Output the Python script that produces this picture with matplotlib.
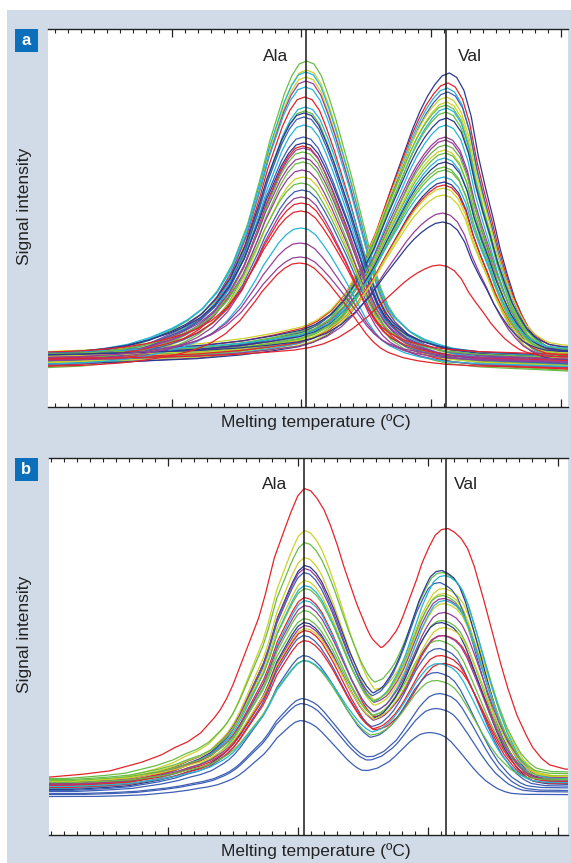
import numpy as np
import matplotlib
matplotlib.use("Agg")
import matplotlib.pyplot as plt
from matplotlib.patches import Rectangle
from matplotlib.ticker import MultipleLocator

plt.rcParams['font.family'] = ['Liberation Sans', 'DejaVu Sans']

# ---------------- colours ----------------
PALETTE = {
    'red': '#e5232b', 'green': '#69bd45', 'yellow': '#cdd12b', 'cyan': '#27b4d6',
    'navy': '#2b3990', 'blue': '#3d5fb4', 'purple': '#973f98',
}
BG = '#d1dbe8'
BOX = '#0b6fbb'

# ---------------- peak shape profiles (fraction of peak height vs offset, °C) ----------------
ALA_A_DX = [-20, -17.5, -15, -13.5, -12, -10.5, -9, -8, -7, -6, -5, -4, -3.5, -3, -2.5, -2, -1.5, -1, -0.5,
            0, 0.5, 1, 1.5, 2, 2.5, 3, 3.5, 4, 4.5, 5, 5.5, 6, 7, 8, 9, 10, 12, 15, 21]
ALA_A_FR = [0.0, 0.006, 0.014, 0.025, 0.04, 0.065, 0.1, 0.13, 0.17, 0.23, 0.32, 0.45, 0.54, 0.63, 0.73, 0.81, 0.89, 0.95, 0.99,
            1.0, 0.99, 0.95, 0.88, 0.80, 0.71, 0.62, 0.52, 0.42, 0.32, 0.24, 0.18, 0.14, 0.09, 0.06, 0.04, 0.025, 0.01, 0.0, -0.02]

VAL_A_DX = [-31.5, -28, -25, -22, -20, -17, -14, -12, -10, -9, -8, -7, -6, -5, -4, -3.5, -3, -2.5, -2, -1.5, -1, -0.5,
            0, 0.5, 1, 1.5, 2, 2.5, 3, 3.5, 4, 4.5, 5, 5.5, 6, 6.5, 7, 8, 10]
VAL_A_FR = [0.0, 0.008, 0.015, 0.022, 0.03, 0.04, 0.06, 0.08, 0.105, 0.13, 0.17, 0.235, 0.33, 0.45, 0.60, 0.67, 0.74, 0.81, 0.87, 0.92, 0.96, 0.99,
            1.0, 0.985, 0.94, 0.85, 0.71, 0.60, 0.50, 0.39, 0.30, 0.22, 0.16, 0.11, 0.08, 0.06, 0.045, 0.035, 0.03]
ALA_A_WIDTH = 1.14
VAL_A_WIDTH = 1.12

ALA_B_DX = [-20, -17, -15, -12.5, -11, -10, -9, -8, -7.4, -7, -6.5, -6, -5.5, -5, -4.5, -4, -3.5, -3, -2.3, -1.5, -1, -0.5,
            0, 0.5, 1, 1.5, 2, 2.5, 3, 3.5, 4, 4.8, 5.3, 5.9, 6.5, 7.3, 8.6, 10, 12, 15, 20]
ALA_B_FR = [0.0, 0.01, 0.02, 0.05, 0.075, 0.10, 0.12, 0.15, 0.18, 0.20, 0.23, 0.27, 0.32, 0.38, 0.44, 0.50, 0.56, 0.64, 0.77, 0.87, 0.93, 0.98,
            1.0, 0.985, 0.95, 0.90, 0.83, 0.75, 0.66, 0.57, 0.48, 0.34, 0.26, 0.18, 0.14, 0.10, 0.06, 0.04, 0.02, 0.01, 0.0]

VAL_B_DX = [-31, -25, -20, -15, -12, -10, -8, -7, -6, -5, -4, -3.5, -3, -2.5, -2, -1.5, -1, -0.5,
            0, 0.5, 1, 1.5, 2, 2.7, 3.3, 4, 4.6, 5.3, 6, 6.5, 7.2, 7.8, 9, 12]
VAL_B_FR = [0.0, 0.005, 0.01, 0.02, 0.04, 0.07, 0.13, 0.18, 0.25, 0.35, 0.48, 0.56, 0.65, 0.74, 0.83, 0.90, 0.96, 0.99,
            1.0, 0.99, 0.97, 0.93, 0.86, 0.73, 0.61, 0.47, 0.36, 0.25, 0.17, 0.12, 0.075, 0.05, 0.035, 0.03]

# ---------------- panel a: homozygous samples ----------------
A_ALA_PEAK = [346, 337, 335, 330, 326, 320, 310, 300, 296, 294, 290, 282, 270, 264, 261,
              259, 255, 249, 245, 237, 230, 224, 217, 210, 204, 196, 179, 164, 150, 144]
A_ALA_BASE = [48, 44, 50, 41, 46, 52, 43, 47, 39, 51, 45, 42, 49, 53, 40,
              46, 44, 50, 38, 47, 43, 51, 45, 41, 48, 54, 42, 46, 49, 40]
A_ALA_POS = [80.4, 80.4, 80.35, 80.35, 80.35, 80.3, 80.25, 80.3, 80.25, 80.2, 80.2, 80.2, 80.15, 80.15, 80.1,
             80.15, 80.1, 80.1, 80.1, 80.05, 80.1, 80.0, 80.05, 80.0, 80.0, 79.95, 79.95, 79.9, 79.9, 79.85]
A_ALA_COLOR = ['green', 'yellow', 'cyan', 'yellow', 'purple', 'cyan', 'red', 'cyan', 'green', 'navy',
               'blue', 'cyan', 'blue', 'navy', 'red', 'purple', 'green', 'purple', 'green', 'purple',
               'yellow', 'green', 'blue', 'purple', 'red', 'red', 'cyan', 'purple', 'purple', 'red']

A_VAL_PEAK = [334, 324, 319, 315, 310, 305, 302, 299, 295, 289, 282, 270, 267, 262,
              257, 254, 249, 245, 240, 237, 230, 225, 222, 219, 212, 194, 185, 142]
A_VAL_BASE = [45, 50, 42, 47, 53, 44, 49, 41, 46, 52, 43, 48, 40, 51,
              45, 47, 42, 50, 44, 48, 53, 41, 46, 43, 49, 45, 51, 47]
A_VAL_POS = [91.4, 91.3, 91.25, 91.3, 91.2, 91.2, 91.15, 91.2, 91.15, 91.2, 91.15, 91.1, 91.1, 91.1,
             91.05, 91.1, 91.05, 91.1, 91.0, 91.05, 91.0, 91.0, 91.0, 90.95, 90.95, 90.9, 90.9, 90.66]
A_VAL_COLOR = ['navy', 'red', 'cyan', 'blue', 'yellow', 'yellow', 'green', 'cyan', 'green', 'navy',
               'cyan', 'purple', 'purple', 'green', 'yellow', 'green', 'cyan', 'navy', 'green', 'green',
               'cyan', 'navy', 'red', 'yellow', 'yellow', 'purple', 'navy', 'red']

# ---------------- panel b: heterozygous samples ----------------
B_ALA_PEAK = [346, 304, 292, 277, 269, 266, 262, 254, 249, 246, 237, 234, 229, 224,
              216, 212, 209, 206, 204, 199, 194, 179, 174, 174, 136, 131, 114]
B_VAL_PEAK = [306, 246, 262, 241, 264, 236, 252, 231, 259, 239, 199, 234, 222, 214,
              194, 212, 199, 207, 171, 186, 179, 162, 154, 171, 141, 126, 102]
B_BASE = [57, 52, 56, 50, 48, 51, 47, 53, 49, 55, 50, 46, 52, 48,
          54, 45, 50, 53, 49, 44, 47, 43, 52, 48, 41, 40, 38]
B_ALA_POS = [80.5, 80.5, 80.5, 80.5, 80.5, 80.5, 80.45, 80.5, 80.5, 80.5, 80.5, 80.5, 80.5, 80.45,
             80.45, 80.45, 80.5, 80.5, 80.5, 80.4, 80.45, 80.4, 80.4, 80.45, 80.3, 80.25, 80.2]
B_VAL_POS = [91.57, 91.35, 91.2, 91.3, 91.1, 91.3, 90.95, 91.35, 91.35, 91.2, 91.3, 91.35, 91.3, 91.2,
             90.95, 91.1, 91.2, 91.35, 91.3, 90.95, 91.1, 90.75, 90.75, 90.95, 90.95, 90.7, 90.2]
B_WIDTH = [1.0, 0.92, 0.92, 0.9, 0.9, 0.9, 0.9, 0.9, 0.9, 0.9, 0.9, 0.9, 0.9, 0.9,
           0.9, 0.9, 0.9, 0.9, 0.9, 0.9, 0.9, 0.88, 0.88, 0.9, 0.85, 0.85, 0.8]
B_COLOR = ['red', 'yellow', 'green', 'yellow', 'navy', 'purple', 'blue', 'yellow', 'cyan', 'green',
           'red', 'cyan', 'purple', 'green', 'green', 'navy', 'purple', 'yellow', 'red', 'blue',
           'red', 'blue', 'green', 'cyan', 'blue', 'blue', 'blue']

MARKER_POS_A = [80.35, 91.12]
MARKER_POS_B = [80.51, 91.39]
MARKER_LABELS = ['Ala', 'Val']
XLIM_A = (60.5, 100.54)
XLIM_B = (60.85, 100.8)

# ---------------- figure ----------------
W, H = 571, 863
fig = plt.figure(figsize=(W / 100, H / 100), dpi=100)
fig.patch.set_facecolor('white')


def fx(px):
    return px / W


def fy(py):
    return 1 - py / H


fig.add_artist(Rectangle((fx(7), 0), 1 - fx(7), fy(10), transform=fig.transFigure,
                         facecolor=BG, edgecolor='none', zorder=0))


def make_axes(left, top, right, bottom, xlim, ylim):
    ax = fig.add_axes([fx(left), fy(bottom), fx(right - left), (bottom - top) / H])
    ax.set_facecolor('white')
    ax.set_xlim(*xlim)
    ax.set_ylim(*ylim)
    ax.xaxis.set_major_locator(MultipleLocator(10))
    ax.xaxis.set_minor_locator(MultipleLocator(1))
    ax.tick_params(axis='x', which='both', direction='in', top=True, bottom=True,
                   labelbottom=False, labeltop=False, color='#222222')
    ax.tick_params(axis='x', which='major', length=6, width=0.9)
    ax.tick_params(axis='x', which='minor', length=3, width=0.8)
    ax.set_yticks([])
    for s in ['left', 'right']:
        ax.spines[s].set_visible(False)
    for s in ['top', 'bottom']:
        ax.spines[s].set_linewidth(1.0)
        ax.spines[s].set_color('#222222')
    return ax


LW = 0.9

# panel a
axa = make_axes(48.3, 29.3, 568, 407, XLIM_A, (0, 377.7))
dxa = np.array(ALA_A_DX) * ALA_A_WIDTH
fra = np.array(ALA_A_FR)
dxv = np.array(VAL_A_DX) * VAL_A_WIDTH
frv = np.array(VAL_A_FR)
n = max(len(A_ALA_PEAK), len(A_VAL_PEAK))
for i in range(n):
    if i < len(A_ALA_PEAK):
        h = A_ALA_PEAK[i] - A_ALA_BASE[i]
        axa.plot(A_ALA_POS[i] + dxa, A_ALA_BASE[i] + h * fra, color=PALETTE[A_ALA_COLOR[i]], lw=LW)
    if i < len(A_VAL_PEAK):
        h = A_VAL_PEAK[i] - A_VAL_BASE[i]
        axa.plot(A_VAL_POS[i] + dxv, A_VAL_BASE[i] + h * frv, color=PALETTE[A_VAL_COLOR[i]], lw=LW)
for xm in MARKER_POS_A:
    axa.axvline(xm, color='#1a1a1a', lw=1.1, zorder=10)

# panel b
axb = make_axes(49, 458, 568, 834.5, XLIM_B, (0, 376.5))
xg = np.linspace(XLIM_B[0] - 0.5, XLIM_B[1] + 0.5, 600)
for i in range(len(B_ALA_PEAK)):
    w = B_WIDTH[i]
    pa, pv = B_ALA_POS[i], B_VAL_POS[i]
    # cross-talk of each peak at the other's maximum
    fv_at_a = np.interp((pa - pv) / w, VAL_B_DX, VAL_B_FR)
    fa_at_v = np.interp((pv - pa) / w, ALA_B_DX, ALA_B_FR)
    M = np.array([[1.0, fv_at_a], [fa_at_v, 1.0]])
    rhs = np.array([B_ALA_PEAK[i] - B_BASE[i], B_VAL_PEAK[i] - B_BASE[i]])
    hA, hV = np.linalg.solve(M, rhs)
    y = (B_BASE[i] + hA * np.interp((xg - pa) / w, ALA_B_DX, ALA_B_FR)
         + hV * np.interp((xg - pv) / w, VAL_B_DX, VAL_B_FR))
    axb.plot(xg, y, color=PALETTE[B_COLOR[i]], lw=LW)
for xm in MARKER_POS_B:
    axb.axvline(xm, color='#1a1a1a', lw=1.1, zorder=10)

# ---------------- text ----------------
FS = 12.5
for (x, y), t in zip([(275.5, 56.5), (470, 56.5)], MARKER_LABELS):
    fig.text(fx(x), fy(y), t, ha='center', va='center', fontsize=FS, color='#222222')
for (x, y), t in zip([(274.5, 484.5), (466, 484.5)], MARKER_LABELS):
    fig.text(fx(x), fy(y), t, ha='center', va='center', fontsize=FS, color='#222222')

fig.text(fx(315.5), fy(422.5), 'Melting temperature (ºC)', ha='center', va='center', fontsize=FS, color='#222222')
fig.text(fx(315.5), fy(851), 'Melting temperature (ºC)', ha='center', va='center', fontsize=FS, color='#222222')
fig.text(fx(25), fy(206), 'Signal intensity', ha='center', va='center', rotation=90, fontsize=FS, color='#222222')
fig.text(fx(25), fy(634), 'Signal intensity', ha='center', va='center', rotation=90, fontsize=FS, color='#222222')

for top, letter in [(29, 'a'), (458, 'b')]:
    fig.add_artist(Rectangle((fx(15), fy(top + 23)), fx(23), 23 / H, transform=fig.transFigure,
                             facecolor=BOX, edgecolor='none', zorder=2))
    fig.text(fx(26.5), fy(top + 11.5), letter, ha='center', va='center', fontsize=12,
             fontweight='bold', color='white', zorder=3)

fig.savefig('out.png', dpi=100, facecolor=fig.get_facecolor())
